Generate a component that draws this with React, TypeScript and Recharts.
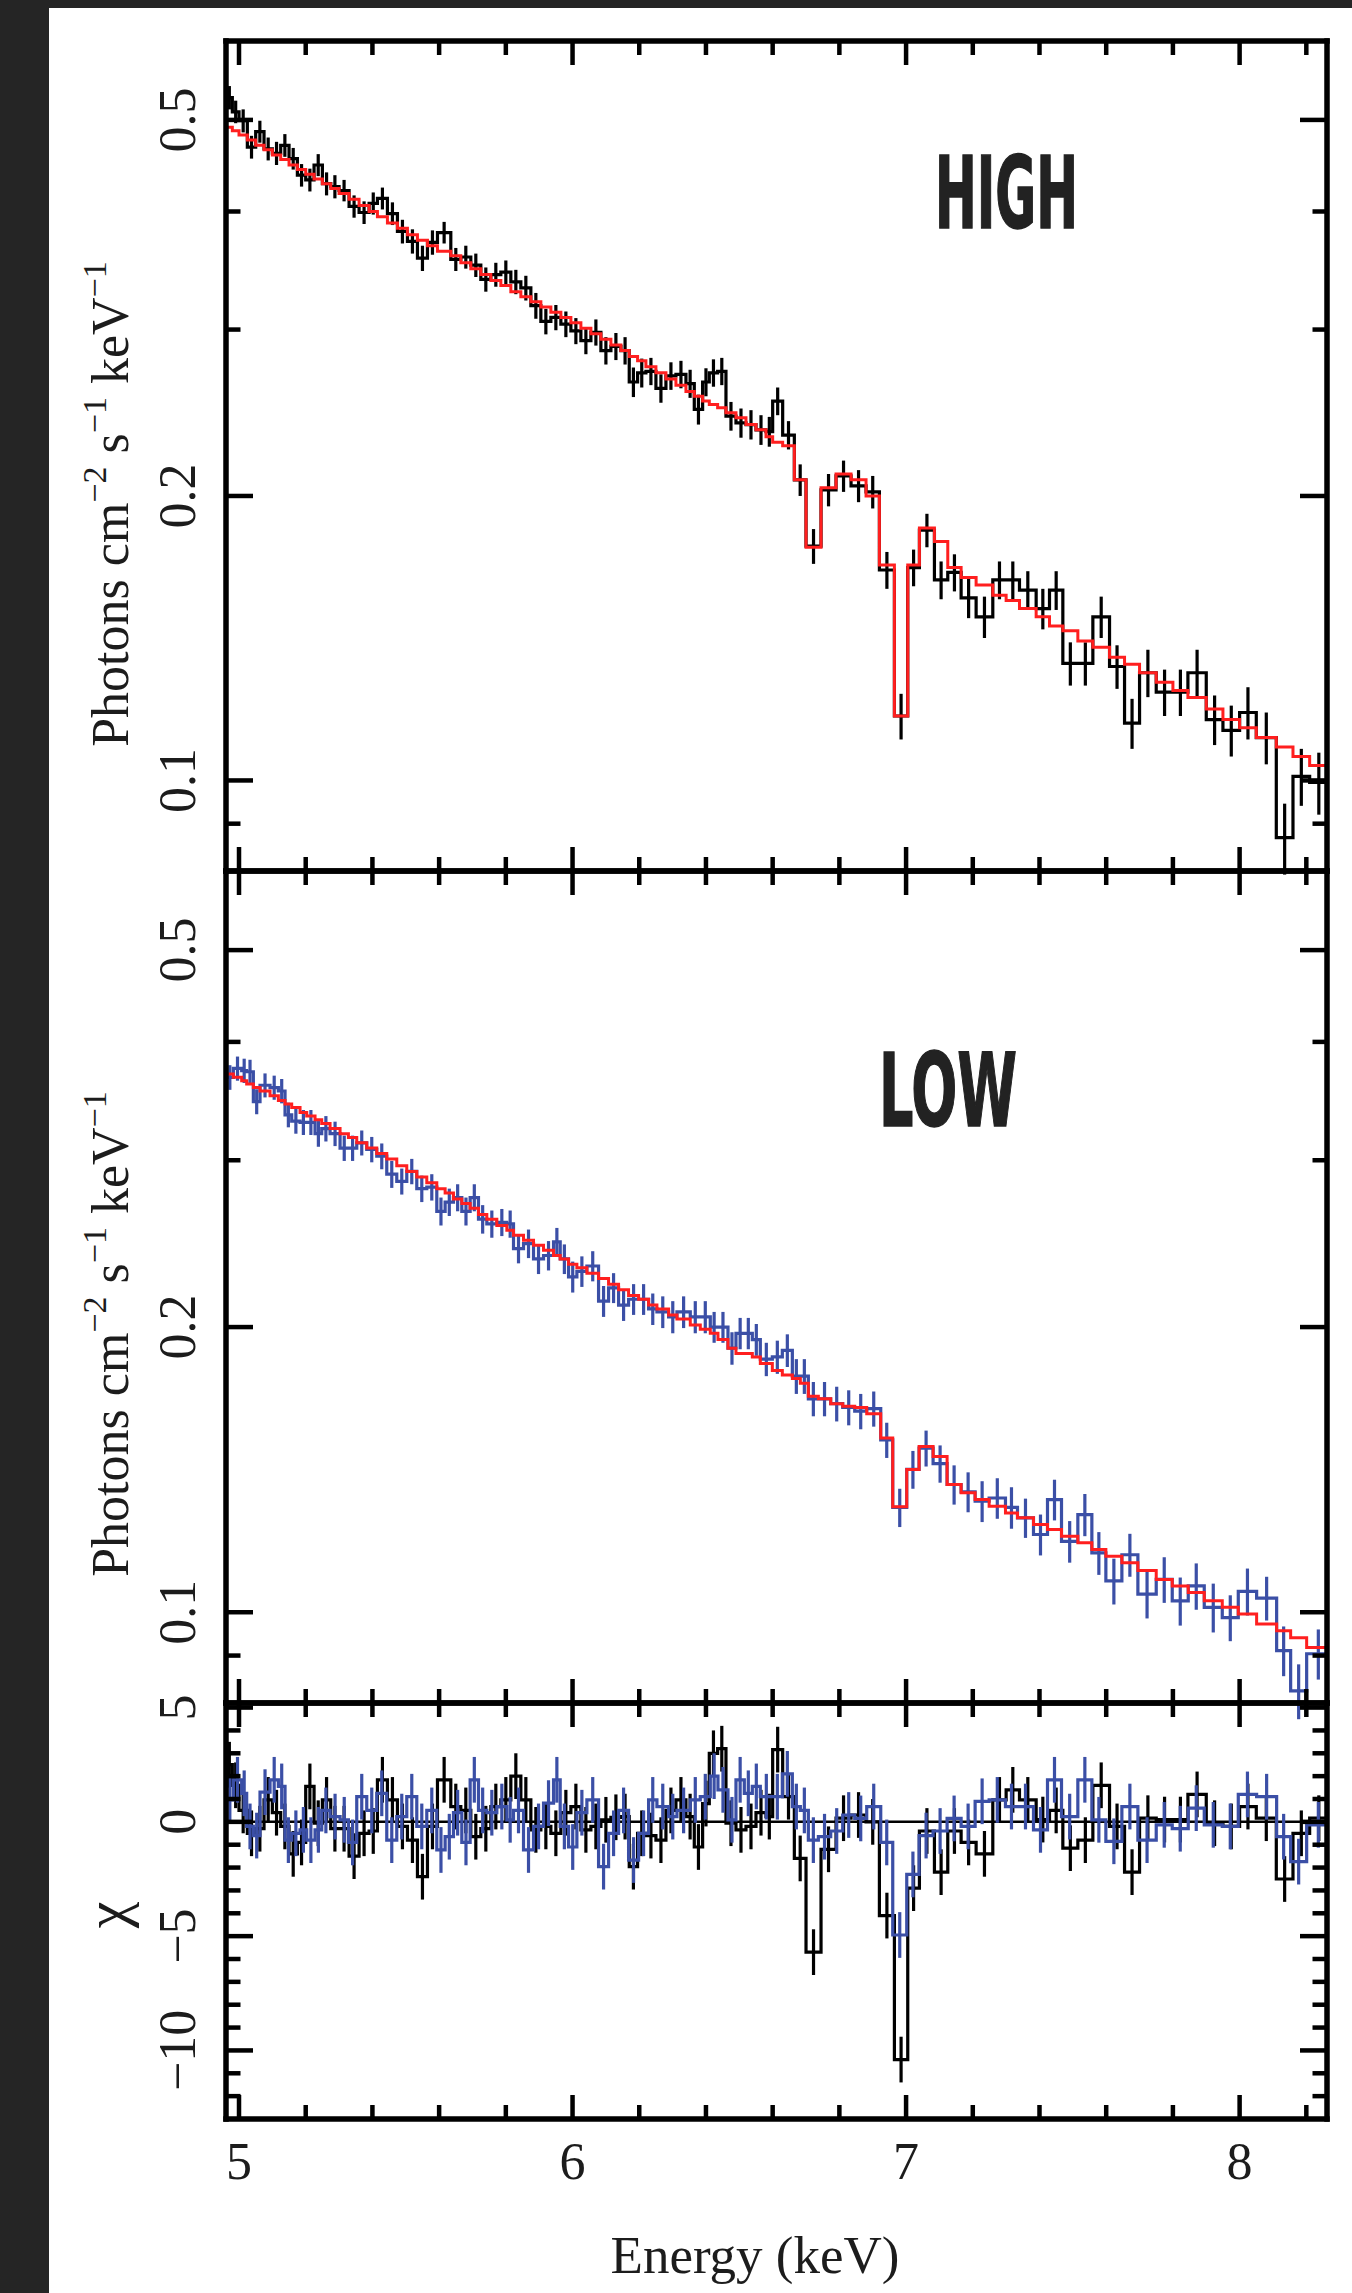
import React from 'react';
import { ComposedChart, Line, Scatter, ErrorBar, XAxis, YAxis, ReferenceLine } from 'recharts';

// ---------- values ----------

// HIGH state: bin edges (keV), flux, 1-sigma error, model, chi residual
const highEdges = [
  4.962, 4.98, 5.0, 5.025, 5.05, 5.075, 5.1, 5.125, 5.15, 5.175,
  5.2, 5.225, 5.25, 5.275, 5.3, 5.33, 5.36, 5.39, 5.415, 5.445,
  5.475, 5.505, 5.535, 5.565, 5.595, 5.635, 5.665, 5.695, 5.725, 5.755,
  5.785, 5.815, 5.845, 5.875, 5.905, 5.935, 5.965, 5.995, 6.025, 6.055,
  6.085, 6.115, 6.145, 6.17, 6.195, 6.22, 6.25, 6.28, 6.31, 6.34,
  6.365, 6.39, 6.41, 6.435, 6.46, 6.49, 6.52, 6.55, 6.58, 6.6,
  6.63, 6.665, 6.7, 6.745, 6.79, 6.835, 6.88, 6.92, 6.965, 7.005,
  7.04, 7.085, 7.125, 7.165, 7.21, 7.26, 7.3, 7.34, 7.39, 7.43,
  7.47, 7.515, 7.56, 7.61, 7.655, 7.7, 7.75, 7.8, 7.845, 7.9,
  7.95, 8.0, 8.05, 8.11, 8.16, 8.21, 8.265,
];
const highFlux = [
  0.528, 0.51, 0.499, 0.468, 0.486, 0.466, 0.461, 0.47, 0.455, 0.437,
  0.432, 0.448, 0.428, 0.425, 0.421, 0.405, 0.399, 0.408, 0.413, 0.398,
  0.381, 0.372, 0.357, 0.371, 0.38, 0.356, 0.358, 0.351, 0.339, 0.343,
  0.345, 0.337, 0.332, 0.318, 0.306, 0.309, 0.304, 0.299, 0.292, 0.298,
  0.285, 0.288, 0.285, 0.264, 0.27, 0.271, 0.26, 0.268, 0.269, 0.263,
  0.247, 0.264, 0.27, 0.271, 0.243, 0.239, 0.238, 0.235, 0.234, 0.252,
  0.232, 0.208, 0.177, 0.203, 0.21, 0.205, 0.202, 0.167, 0.117, 0.168,
  0.184, 0.163, 0.166, 0.156, 0.149, 0.163, 0.163, 0.159, 0.152, 0.159,
  0.133, 0.133, 0.149, 0.132, 0.115, 0.13, 0.124, 0.124, 0.13, 0.116,
  0.113, 0.118, 0.111, 0.087, 0.101, 0.0995,
];
const highErr = [
  0.015, 0.014, 0.014, 0.013, 0.013, 0.013, 0.013, 0.013, 0.012, 0.012,
  0.012, 0.012, 0.012, 0.012, 0.011, 0.011, 0.011, 0.011, 0.011, 0.011,
  0.011, 0.011, 0.011, 0.011, 0.01, 0.01, 0.01, 0.01, 0.01, 0.01,
  0.01, 0.01, 0.01, 0.01, 0.0095, 0.0095, 0.0095, 0.0095, 0.0095, 0.0095,
  0.0095, 0.0095, 0.0095, 0.0095, 0.0095, 0.009, 0.009, 0.009, 0.009, 0.009,
  0.009, 0.009, 0.009, 0.009, 0.0085, 0.0085, 0.0085, 0.0085, 0.0085, 0.0085,
  0.008, 0.008, 0.0075, 0.008, 0.008, 0.008, 0.008, 0.0075, 0.0065, 0.0075,
  0.0075, 0.0075, 0.0075, 0.0075, 0.0075, 0.0075, 0.0075, 0.0075, 0.0075, 0.0075,
  0.007, 0.007, 0.0075, 0.007, 0.007, 0.0075, 0.007, 0.007, 0.0075, 0.007,
  0.007, 0.0075, 0.007, 0.0075, 0.007, 0.0075,
];
const highModel = [
  0.491, 0.487, 0.482, 0.476, 0.47, 0.465, 0.459, 0.454, 0.448, 0.443,
  0.438, 0.433, 0.428, 0.423, 0.418, 0.412, 0.406, 0.4, 0.395, 0.389,
  0.384, 0.378, 0.373, 0.368, 0.363, 0.359, 0.353, 0.348, 0.343, 0.338,
  0.334, 0.329, 0.325, 0.321, 0.317, 0.313, 0.309, 0.305, 0.301, 0.297,
  0.293, 0.289, 0.285, 0.281, 0.278, 0.274, 0.27, 0.266, 0.262, 0.258,
  0.255, 0.252, 0.25, 0.248, 0.245, 0.242, 0.238, 0.235, 0.231, 0.228,
  0.226, 0.208, 0.1765, 0.204, 0.211, 0.208, 0.2, 0.169, 0.117, 0.169,
  0.185, 0.179, 0.168, 0.164, 0.161, 0.157, 0.155, 0.152, 0.149, 0.1457,
  0.144, 0.1405, 0.1383, 0.135, 0.1327, 0.13, 0.127, 0.1245, 0.1224, 0.119,
  0.116, 0.1137, 0.111, 0.1085, 0.106, 0.1037,
];
const highChi = [
  2.5, 1.6, 0.5, -0.5, -0.3, 0.96, 0.4, -0.2, -1.4, -0.9,
  1.55, -0.06, 0.96, -0.3, -0.3, -1.5, -0.5, -0.4, 1.84, 0.96,
  -0.2, -0.8, -2.4, -0.2, 1.84, 0.67, 0.5, -0.65, -0.3, 0.67,
  0.96, 2.0, 0.96, -0.35, -0.2, -0.5, 0.4, 0.67, -0.35, -0.2,
  0.09, 0.2, 0.23, -1.96, -0.5, -0.6, -0.8, 0.5, 0.96, 0.23,
  -1.1, 0.8, 3.0, 3.2, -0.06, -0.35, -0.2, 0.4, 0.23, 3.16,
  1.1, -1.6, -5.7, -1.2, 0.16, 0.3, 0.0, -4.1, -10.4, -2.9,
  -0.4, -2.2, -0.4, -0.9, -1.4, 0.96, 1.4, 0.96, 0.1, 0.5,
  -1.15, -0.8, 1.6, -0.2, -2.2, 0.16, 0.1, 0.1, 1.2, -0.06,
  -0.2, 0.67, 0.16, -2.5, -0.5, 0.16,
];

// LOW state
const lowEdges = [
  4.962, 4.983, 5.008, 5.023, 5.043, 5.063, 5.093, 5.118, 5.138, 5.158,
  5.183, 5.203, 5.228, 5.248, 5.273, 5.303, 5.328, 5.353, 5.383, 5.413,
  5.443, 5.473, 5.503, 5.533, 5.563, 5.593, 5.618, 5.643, 5.668, 5.693,
  5.718, 5.743, 5.773, 5.803, 5.823, 5.853, 5.883, 5.913, 5.943, 5.963,
  5.988, 6.013, 6.043, 6.078, 6.108, 6.138, 6.168, 6.198, 6.228, 6.253,
  6.288, 6.313, 6.353, 6.383, 6.413, 6.436, 6.466, 6.49, 6.515, 6.539,
  6.563, 6.599, 6.629, 6.659, 6.683, 6.707, 6.737, 6.774, 6.81, 6.846,
  6.882, 6.924, 6.96, 7.002, 7.039, 7.081, 7.123, 7.165, 7.207, 7.249,
  7.298, 7.334, 7.382, 7.424, 7.466, 7.515, 7.557, 7.599, 7.647, 7.695,
  7.75, 7.798, 7.846, 7.894, 7.948, 7.996, 8.051, 8.111, 8.153, 8.201, 8.271,
];
const lowFlux = [
  0.367, 0.375, 0.373, 0.372, 0.346, 0.36, 0.358, 0.355, 0.335, 0.33,
  0.329, 0.329, 0.32, 0.324, 0.32, 0.309, 0.309, 0.313, 0.308, 0.303,
  0.29, 0.285, 0.292, 0.28, 0.281, 0.265, 0.271, 0.274, 0.265, 0.274,
  0.26, 0.257, 0.258, 0.257, 0.242, 0.245, 0.236, 0.238, 0.246, 0.236,
  0.226, 0.229, 0.232, 0.213, 0.22, 0.211, 0.214, 0.214, 0.209, 0.2075,
  0.205, 0.2075, 0.205, 0.205, 0.2, 0.2, 0.19, 0.197, 0.197, 0.194,
  0.185, 0.186, 0.189, 0.1775, 0.1775, 0.168, 0.168, 0.166, 0.1645, 0.163,
  0.164, 0.152, 0.129, 0.1415, 0.149, 0.1435, 0.1364, 0.134, 0.131, 0.132,
  0.129, 0.1258, 0.1208, 0.1315, 0.1188, 0.1268, 0.1155, 0.1079, 0.115, 0.1045,
  0.1083, 0.1028, 0.1066, 0.1012, 0.0987, 0.1052, 0.1035, 0.0911, 0.0826, 0.0904,
];
const lowErr = [
  0.011, 0.011, 0.011, 0.011, 0.0105, 0.0105, 0.0105, 0.0105, 0.01, 0.01,
  0.01, 0.01, 0.01, 0.01, 0.0095, 0.0095, 0.0095, 0.0095, 0.0095, 0.0095,
  0.0095, 0.009, 0.009, 0.009, 0.009, 0.009, 0.009, 0.009, 0.009, 0.009,
  0.009, 0.0085, 0.0085, 0.0085, 0.0085, 0.0085, 0.0085, 0.0085, 0.0085, 0.0085,
  0.0085, 0.0085, 0.0085, 0.008, 0.008, 0.008, 0.008, 0.008, 0.008, 0.008,
  0.008, 0.008, 0.008, 0.008, 0.0075, 0.0075, 0.0075, 0.0075, 0.0075, 0.0075,
  0.0075, 0.0075, 0.0075, 0.0075, 0.0075, 0.007, 0.007, 0.007, 0.007, 0.007,
  0.007, 0.0065, 0.006, 0.0065, 0.0065, 0.0065, 0.0065, 0.0065, 0.0065, 0.0065,
  0.0065, 0.006, 0.006, 0.0065, 0.006, 0.0065, 0.006, 0.006, 0.006, 0.006,
  0.006, 0.006, 0.006, 0.006, 0.0055, 0.006, 0.0055, 0.0055, 0.0055, 0.0055,
];
const lowModel = [
  0.37, 0.367, 0.364, 0.361, 0.358, 0.355, 0.351, 0.347, 0.344, 0.341,
  0.337, 0.334, 0.331, 0.328, 0.324, 0.32, 0.317, 0.313, 0.309, 0.305,
  0.301, 0.296, 0.292, 0.288, 0.284, 0.28, 0.277, 0.273, 0.27, 0.267,
  0.263, 0.26, 0.256, 0.253, 0.25, 0.247, 0.244, 0.241, 0.238, 0.236,
  0.233, 0.231, 0.228, 0.225, 0.222, 0.219, 0.216, 0.214, 0.211, 0.209,
  0.206, 0.204, 0.201, 0.199, 0.197, 0.194, 0.19, 0.1875, 0.1875, 0.186,
  0.183, 0.18, 0.178, 0.1765, 0.1745, 0.169, 0.168, 0.166, 0.165, 0.1645,
  0.162, 0.1527, 0.1292, 0.1415, 0.1496, 0.146, 0.1364, 0.1337, 0.1315, 0.1294,
  0.1273, 0.1258, 0.1238, 0.1223, 0.1203, 0.1184, 0.1165, 0.1146, 0.1128, 0.1107,
  0.1083, 0.1066, 0.1049, 0.1028, 0.1012, 0.0996, 0.0972, 0.0956, 0.094, 0.0918,
];
const lowChi = [
  0.96, 1.84, 1.25, -0.2, -0.6, 1.3, 1.84, 1.55, -0.8, -0.5,
  -0.35, -0.8, -0.35, 0.5, 0.23, 0.09, -0.9, 1.1, 0.5, 1.25,
  -0.8, 0.23, 1.1, -0.2, 0.5, -1.23, -0.65, 0.4, -0.9, 1.84,
  0.5, 0.4, 0.67, 0.09, 0.5, -1.23, -0.2, 0.82, 1.84, -0.2,
  -1.1, 0.4, 0.96, -1.96, -0.5, 0.5, -1.67, -0.5, 0.96, 0.67,
  0.23, 0.5, 0.96, 1.1, 2.0, 1.4, 0.09, 1.84, 1.25, 1.55,
  1.1, 1.1, 2.1, 0.67, 0.5, -0.8, -0.65, -0.4, 0.3, 0.15,
  0.67, -0.9, -4.95, -2.3, -0.6, -0.4, 0.15, -0.2, 0.9, 0.96,
  0.67, 0.67, -0.35, 1.84, 0.23, 1.84, 0.09, -0.85, 0.67, -0.8,
  -0.13, -0.3, 0.6, -0.13, -0.2, 1.2, 1.1, -0.65, -1.74, -0.13,
];

// axis ticks and labels
const energyMajor = [5, 6, 7, 8];
const energyMinor = [5.2, 5.4, 5.6, 5.8, 6.2, 6.4, 6.6, 6.8, 7.2, 7.4, 7.6, 7.8, 8.2];
const energyLabels = ['5', '6', '7', '8'];
const fluxMajor = [0.1, 0.2, 0.5];
const fluxMinor = [0.09, 0.3, 0.4];
const fluxLabels = ['0.1', '0.2', '0.5'];
const chiMajor = [-10, -5, 0, 5];
const chiMinor = [-12, -11, -9, -8, -7, -6, -4, -3, -2, -1, 1, 2, 3, 4];
const chiLabels = ['\u221210', '\u22125', '0', '5'];

// ---------- layout ----------
const W = 1352;
const H = 2293;
const PLOT_L = 226;
const PLOT_R = 1327;
const X_DOMAIN: [number, number] = [4.961, 8.262];
const FLUX_DOMAIN: [number, number] = [0.0802, 0.606];
const CHI_DOMAIN: [number, number] = [-13, 5.2];
const X_MAJOR_LEN = 24;
const X_MINOR_LEN = 14;
const X_LABEL_GAP = 42; // from the bottom frame to the middle of the energy labels
const energyTicks = [...energyMajor, ...energyMinor].sort((a, b) => a - b);

const SERIF = '"Liberation Serif", "Times New Roman", serif';
const RED = '#ff1f1f';
const BLUE = '#3b4fa6';
const INK = '#1c1c1c';
const FRAME = { stroke: '#000', strokeWidth: 5.5, strokeLinecap: 'square' };
const TICK = { stroke: '#000', strokeWidth: 4.5 };

const stepRows = (edges: number[], vals: number[]) =>
  edges.map((x, i) => ({ x, y: vals[Math.min(i, vals.length - 1)] }));
const barRows = (edges: number[], vals: number[], errs: number[] | null) =>
  vals.map((y, i) => ({ x: (edges[i] + edges[i + 1]) / 2, y, err: errs ? errs[i] : 1 }));

const noMark = () => <g />;
// tick must be truthy or Recharts drops the tick lines too
const blankTick = () => <g />;

const yTick = (ticks: number[], labels: string[]) => (props: any) => {
  const { x, y, payload } = props;
  return (
    <text transform={`translate(${x},${y}) rotate(-90)`} textAnchor="middle" dy="0.34em"
      fontFamily={SERIF} fontSize={52} fill={INK}>
      {labels[ticks.indexOf(payload.value)]}
    </text>
  );
};

// energy ticks: drawn from the frame inward (dir -1 = up, +1 = down), majors longer,
// and on the lowest frame the energy labels below
const energyTick = (dir: number, withLabels: boolean) => (props: any) => {
  const { x, y, payload } = props;
  const i = energyMajor.indexOf(payload.value);
  const len = i >= 0 ? X_MAJOR_LEN : X_MINOR_LEN;
  return (
    <g>
      <line x1={x} x2={x} y1={y} y2={y + dir * len} stroke="#000" strokeWidth={4.5} />
      {withLabels && i >= 0 && (
        <text x={x} y={y + X_LABEL_GAP} textAnchor="middle" dy="0.34em" fontFamily={SERIF} fontSize={52} fill={INK}>
          {energyLabels[i]}
        </text>
      )}
    </g>
  );
};

// axes of size 1 px: Recharts skips drawing an axis whose width or height is 0
function frameAxes(scale: 'log' | 'linear', domain: [number, number], major: number[], minor: number[],
  labels: string[], withEnergyLabels: boolean) {
  const c = { type: 'number' as const, allowDataOverflow: true, interval: 0 as const, stroke: '#000' };
  return [
    <XAxis key="xb" xAxisId="b" dataKey="x" orientation="bottom" mirror height={1} domain={X_DOMAIN}
      ticks={energyTicks} tickSize={0} tickMargin={0} tick={energyTick(-1, withEnergyLabels)}
      axisLine={FRAME} tickLine={false} {...c} />,
    <XAxis key="xt" xAxisId="t" dataKey="x" orientation="top" mirror height={1} domain={X_DOMAIN}
      ticks={energyTicks} tickSize={0} tickMargin={0} tick={energyTick(1, false)}
      axisLine={FRAME} tickLine={false} {...c} />,
    <YAxis key="yl" yAxisId="l" dataKey="y" orientation="left" mirror width={1} scale={scale} domain={domain}
      ticks={major} tickSize={27} tick={blankTick} axisLine={FRAME} tickLine={TICK} {...c} />,
    <YAxis key="ylm" yAxisId="lm" orientation="left" mirror width={1} scale={scale} domain={domain}
      ticks={minor} tickSize={13.5} tick={blankTick} axisLine={false} tickLine={TICK} {...c} />,
    <YAxis key="yr" yAxisId="r" orientation="right" mirror width={1} scale={scale} domain={domain}
      ticks={major} tickSize={27} tick={blankTick} axisLine={FRAME} tickLine={TICK} {...c} />,
    <YAxis key="yrm" yAxisId="rm" orientation="right" mirror width={1} scale={scale} domain={domain}
      ticks={minor} tickSize={13.5} tick={blankTick} axisLine={false} tickLine={TICK} {...c} />,
    <YAxis key="ytx" yAxisId="tx" orientation="left" width={1} scale={scale} domain={domain}
      ticks={major} tickSize={0} tickMargin={49} tickLine={false} axisLine={false}
      tick={yTick(major, labels)} {...c} />,
  ];
}

// xId lets a series feed the top axis as well (same domain, so same positions)
function histogram(key: string, edges: number[], vals: number[], errs: number[] | null, color: string, xId = 'b') {
  return [
    <Line key={key + 's'} data={stepRows(edges, vals)} xAxisId={xId} yAxisId="l" dataKey="y" type="stepAfter"
      stroke={color} strokeWidth={3.2} dot={false} activeDot={false} isAnimationActive={false} />,
    <Scatter key={key + 'e'} data={barRows(edges, vals, errs)} xAxisId={xId} yAxisId="l" shape={noMark}
      isAnimationActive={false}>
      <ErrorBar dataKey="err" direction="y" width={0} stroke={color} strokeWidth={3.2} isAnimationActive={false} />
    </Scatter>,
  ];
}

const modelLine = (edges: number[], vals: number[]) => (
  <Line data={stepRows(edges, vals)} xAxisId="t" yAxisId="l" dataKey="y" type="stepAfter"
    stroke={RED} strokeWidth={3} dot={false} activeDot={false} isAnimationActive={false} />
);

const layer: React.CSSProperties = { position: 'absolute', left: 0, top: 0 };
// the tick-label axis takes 1 px, taken back from the left margin
const margins = (top: number, bottom: number) => ({
  top, bottom: H - bottom, left: PLOT_L - 1, right: W - PLOT_R,
});

export default function App() {
  return (
    <div style={{ position: 'absolute', left: 0, top: 0, width: W, height: H, background: '#252525', overflow: 'hidden' }}>
      <div style={{ position: 'absolute', left: 49, top: 8, width: W - 49, height: H - 8, background: '#fff' }} />

      <div style={layer}>
        <ComposedChart width={W} height={H} margin={margins(41, 871)}>
          {frameAxes('log', FLUX_DOMAIN, fluxMajor, fluxMinor, fluxLabels, false)}
          {histogram('hi', highEdges, highFlux, highErr, '#000')}
          {modelLine(highEdges, highModel)}
        </ComposedChart>
      </div>

      <div style={layer}>
        <ComposedChart width={W} height={H} margin={margins(871, 1703)}>
          {frameAxes('log', FLUX_DOMAIN, fluxMajor, fluxMinor, fluxLabels, false)}
          {histogram('lo', lowEdges, lowFlux, lowErr, BLUE)}
          {modelLine(lowEdges, lowModel)}
        </ComposedChart>
      </div>

      <div style={layer}>
        <ComposedChart width={W} height={H} margin={margins(1703, 2119)}>
          {frameAxes('linear', CHI_DOMAIN, chiMajor, chiMinor, chiLabels, true)}
          <ReferenceLine xAxisId="b" yAxisId="l" y={0} stroke="#000" strokeWidth={2.5} />
          {histogram('hr', highEdges, highChi, null, '#000')}
          {histogram('lr', lowEdges, lowChi, null, BLUE, 't')}
        </ComposedChart>
      </div>

      <svg style={layer} width={W} height={H}>
        <g fontFamily={SERIF} fill={INK}>
          <text transform="translate(128,504) rotate(-90)" textAnchor="middle" fontSize={52}>
            Photons cm<tspan dy={-22} fontSize={34}>{'\u22122'}</tspan>
            <tspan dy={22}> s</tspan><tspan dy={-22} fontSize={34}>{'\u22121'}</tspan>
            <tspan dy={22}> keV</tspan><tspan dy={-22} fontSize={34}>{'\u22121'}</tspan>
          </text>
          <text transform="translate(128,1334) rotate(-90)" textAnchor="middle" fontSize={52}>
            Photons cm<tspan dy={-22} fontSize={34}>{'\u22122'}</tspan>
            <tspan dy={22}> s</tspan><tspan dy={-22} fontSize={34}>{'\u22121'}</tspan>
            <tspan dy={22}> keV</tspan><tspan dy={-22} fontSize={34}>{'\u22121'}</tspan>
          </text>
          <text transform="translate(126,1915) rotate(-90)" textAnchor="middle" fontSize={60}>{'\u03c7'}</text>
          <text x={755} y={2273} textAnchor="middle" fontSize={53}>Energy (keV)</text>
        </g>
        <g fontFamily='"DejaVu Sans Condensed", "DejaVu Sans", sans-serif' fontWeight={700} fill="#222"
          stroke="#222" strokeWidth={1.5}>
          <text x={935} y={228} fontSize={99} textLength={143} lengthAdjust="spacingAndGlyphs">HIGH</text>
          <text x={879} y={1126} fontSize={101} textLength={138} lengthAdjust="spacingAndGlyphs">LOW</text>
        </g>
      </svg>
    </div>
  );
}
